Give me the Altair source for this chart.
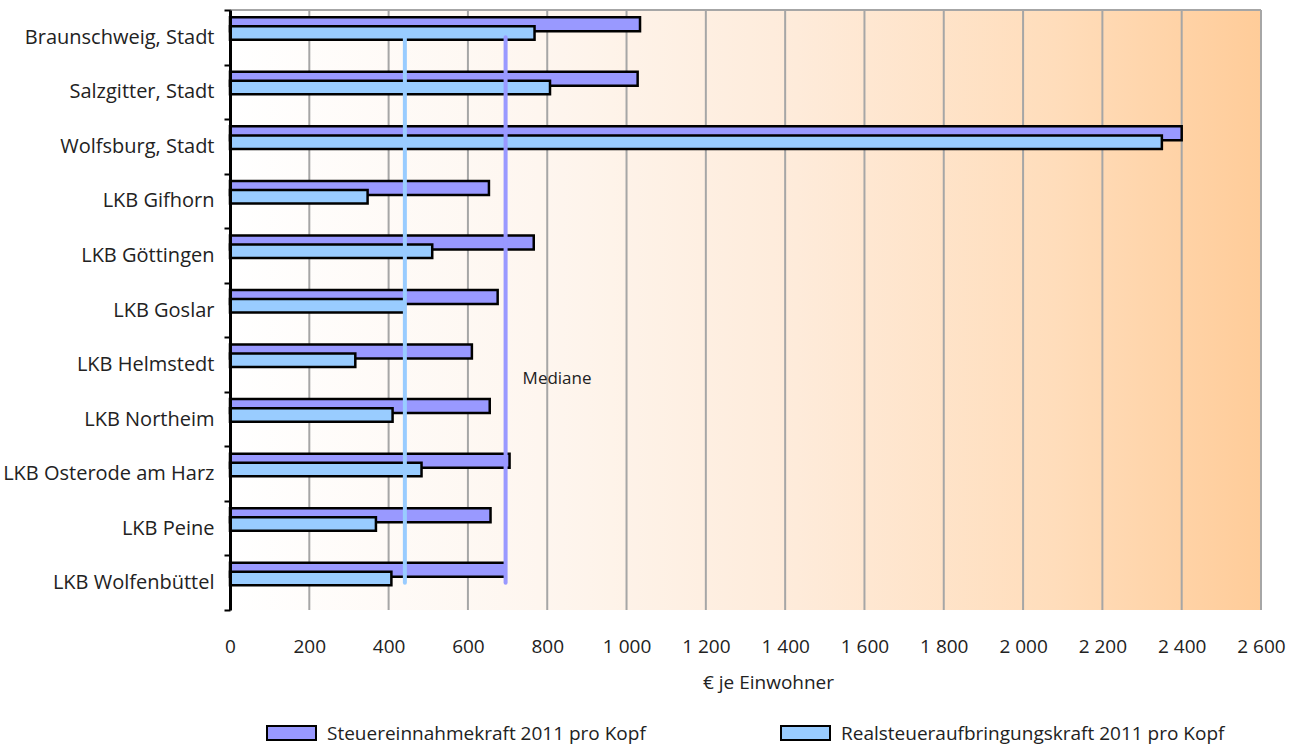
import altair as alt
import numpy as np
import pandas as pd

FONT = "Open Sans"
TEXT = "#222222"

# Kreise / kreisfreie Städte (top to bottom)
regions = [
    "Braunschweig, Stadt",
    "Salzgitter, Stadt",
    "Wolfsburg, Stadt",
    "LKB Gifhorn",
    "LKB Göttingen",
    "LKB Goslar",
    "LKB Helmstedt",
    "LKB Northeim",
    "LKB Osterode am Harz",
    "LKB Peine",
    "LKB Wolfenbüttel",
]

# € je Einwohner
steuereinnahmekraft = [1034, 1028, 2400, 653, 766, 675, 610, 655, 705, 657, 695]
realsteuerkraft = [768, 807, 2350, 347, 510, 441, 316, 410, 483, 368, 407]

series_names = [
    "Steuereinnahmekraft 2011 pro Kopf",
    "Realsteueraufbringungskraft 2011 pro Kopf",
]
series_colors = ["#9999FF", "#99CCFF"]

x_ticks = list(range(0, 2601, 200))
x_max = 2600

df = pd.DataFrame(
    {
        "region": regions * 2,
        "series": [series_names[0]] * len(regions) + [series_names[1]] * len(regions),
        "value": steuereinnahmekraft + realsteuerkraft,
    }
)

medians = pd.DataFrame(
    {
        "series": series_names,
        "median": [float(np.median(steuereinnahmekraft)), float(np.median(realsteuerkraft))],
        "start": [regions[0]] * 2,
        "end": [regions[-1]] * 2,
    }
)

label_df = pd.DataFrame(
    {"median": [float(np.median(steuereinnahmekraft))], "anchor": ["LKB Helmstedt"], "label": ["Mediane"]}
)

frame_df = pd.DataFrame({"x0": [0], "x1": [x_max]})
grid_df = pd.DataFrame({"v": x_ticks})

x_scale = alt.Scale(domain=[0, x_max], nice=False, zero=True)
y_scale = alt.Scale(domain=regions, paddingInner=0, paddingOuter=0)
color_scale = alt.Scale(domain=series_names, range=series_colors)

x_axis = alt.Axis(
    values=x_ticks,
    grid=False,
    domain=False,
    ticks=False,
    labelPadding=27,
    labelFontSize=19,
    labelFont=FONT,
    labelColor=TEXT,
    labelFlush=False,
    labelOverlap=False,
    labelExpr="replace(format(datum.value, ','), ',', ' ')",
    title="€ je Einwohner",
    titleFont=FONT,
    titleFontSize=19,
    titleFontWeight="normal",
    titleColor=TEXT,
    titlePadding=17,
    titleX=538,
)

y_axis = alt.Axis(
    title=None,
    grid=False,
    domain=True,
    domainColor="black",
    domainWidth=3,
    ticks=True,
    tickColor="black",
    tickWidth=2,
    tickSize=6,
    tickBand="extent",
    labelFont=FONT,
    labelFontSize=20,
    labelColor=TEXT,
    labelPadding=10,
    labelLimit=0,
    zindex=1,
)

gradient = alt.LinearGradient(
    gradient="linear",
    x1=0,
    x2=1,
    y1=0,
    y2=0,
    stops=[
        alt.GradientStop(color="#FFFFFF", offset=0),
        alt.GradientStop(color="#FEF6EF", offset=0.3),
        alt.GradientStop(color="#FEEBDA", offset=0.55),
        alt.GradientStop(color="#FFDDBB", offset=0.8),
        alt.GradientStop(color="#FFCC99", offset=1),
    ],
)

background = alt.Chart(frame_df).mark_rect(color=gradient).encode(
    x=alt.X("x0:Q", scale=x_scale, axis=x_axis),
    x2="x1:Q",
)

grid = alt.Chart(grid_df).mark_rule(color="#A6A6A6", strokeWidth=2).encode(
    x=alt.X("v:Q", scale=x_scale, axis=x_axis)
)

top_border = alt.Chart(frame_df).mark_rule(color="#A6A6A6", strokeWidth=2).encode(
    x=alt.X("x0:Q", scale=x_scale, axis=x_axis),
    x2="x1:Q",
    y=alt.value(0),
)

bars_base = alt.Chart(df).encode(
    x=alt.X("value:Q", scale=x_scale, axis=x_axis),
    y=alt.Y("region:N", scale=y_scale, axis=y_axis),
    color=alt.Color("series:N", scale=color_scale, legend=None),
)

bars_a = bars_base.transform_filter(alt.datum.series == series_names[0]).mark_bar(
    height=14, yOffset=-13, stroke="black", strokeWidth=2.5, opacity=1
)
bars_b = bars_base.transform_filter(alt.datum.series == series_names[1]).mark_bar(
    height=13.5, yOffset=-4.2, stroke="black", strokeWidth=2.5, opacity=1
)

median_lines = alt.Chart(medians).mark_rule(strokeWidth=4, strokeCap="round", opacity=1).encode(
    x=alt.X("median:Q", scale=x_scale, axis=x_axis),
    y=alt.Y("start:N", scale=y_scale, axis=y_axis),
    y2="end:N",
    color=alt.Color("series:N", scale=color_scale, legend=None),
)

median_label = alt.Chart(label_df).mark_text(
    align="left", baseline="middle", dx=17, dy=14, font=FONT, fontSize=17, color=TEXT
).encode(
    x=alt.X("median:Q", scale=x_scale, axis=x_axis),
    y=alt.Y("anchor:N", scale=y_scale, axis=y_axis),
    text="label:N",
)


def legend_item(name, fill, left):
    """Outlined swatch plus label below the plot, placed in pixels from the plot origin."""
    swatch = alt.Chart(frame_df).mark_rect(fill=fill, stroke="black", strokeWidth=2).encode(
        x=alt.value(left),
        x2=alt.value(left + 49),
        y=alt.value(716),
        y2=alt.value(730),
    )
    label = alt.Chart(frame_df).mark_text(
        align="left", baseline="middle", font=FONT, fontSize=19, color=TEXT
    ).encode(
        x=alt.value(left + 60),
        y=alt.value(723.5),
        text=alt.value(name),
    )
    return [swatch, label]


legend_layers = legend_item(series_names[0], series_colors[0], 37) + legend_item(
    series_names[1], series_colors[1], 551
)

chart = (
    alt.layer(background, grid, top_border, bars_a, bars_b, median_lines, median_label, *legend_layers)
    .properties(
        width=1031,
        height=600,
        autosize=alt.AutoSizeParams(type="none"),
        padding={"left": 230, "top": 10, "right": 40, "bottom": 139},
        background="white",
    )
    .configure_view(stroke=None)
)

chart.save("out.html", embed_options={"renderer": "svg", "actions": False})
